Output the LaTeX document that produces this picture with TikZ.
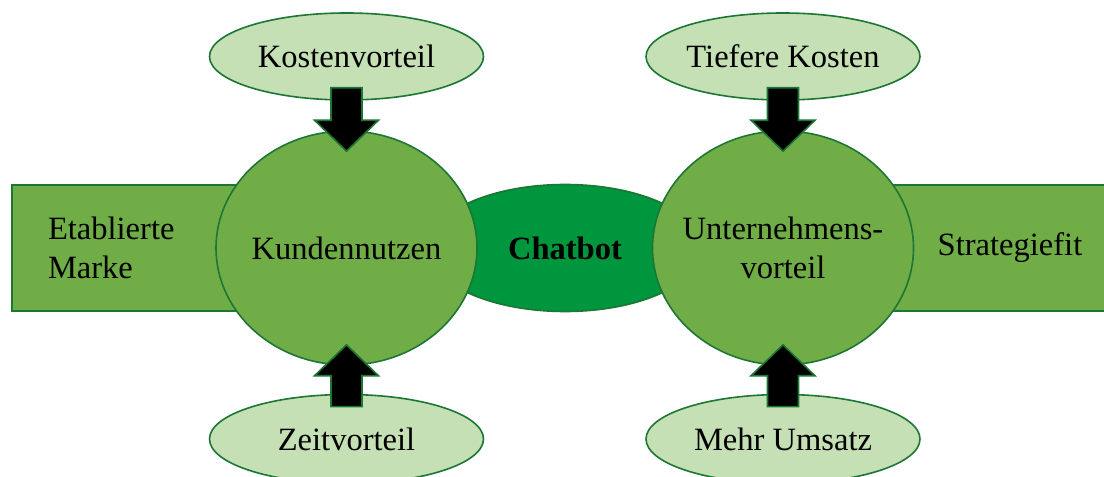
\documentclass[tikz,border=0pt]{standalone}
\usepackage{fontspec}
\setmainfont{Liberation Serif}
\usetikzlibrary{calc,shapes.geometric}

\definecolor{edgegreen}{RGB}{28,118,52}
\definecolor{boxgreen}{HTML}{70AD47}
\definecolor{botgreen}{RGB}{0,150,62}
\definecolor{palegreen}{HTML}{C5E0B4}

\begin{document}
\begin{tikzpicture}[
    x=0.75pt, y=-0.75pt,
    every node/.style={font=\fontsize{24.4}{29.3}\selectfont, inner sep=0pt},
    side/.style={draw=edgegreen, line width=1.2pt, fill=boxgreen, minimum height=94.5pt},
    hub/.style={ellipse, draw=edgegreen, line width=1.2pt, fill=boxgreen, inner xsep=-12pt,
        minimum width=195.75pt, minimum height=175.5pt, align=center},
    core/.style={ellipse, draw=edgegreen, line width=1.2pt, fill=botgreen, inner xsep=-12pt,
        minimum width=205.5pt, minimum height=95.25pt, font=\fontsize{24.4}{29.3}\selectfont\bfseries},
    factor/.style={ellipse, draw=edgegreen, line width=1.2pt, fill=palegreen, inner xsep=-12pt,
        minimum width=205.5pt, minimum height=65.25pt},
    blockarrow/.style={draw=edgegreen, line width=1.2pt, fill=black, line join=miter,
        to path={let \p1=($(\tikztostart)!-9.75pt!(\tikztotarget)$),
                     \p2=($(\tikztotarget)!-15.75pt!(\tikztostart)$) in
            ($(\p1)!11.6pt!90:(\p2)$) -- ($(\p2)!26pt!-26.6:(\p1)$)
            -- ($(\p2)!33.4pt!-45.9:(\p1)$) -- (\p2)
            -- ($(\p2)!33.4pt!45.9:(\p1)$) -- ($(\p2)!26pt!26.6:(\p1)$)
            -- ($(\p1)!11.6pt!-90:(\p2)$) -- cycle}},
]
\useasboundingbox (0,0) rectangle (1104,477);

% side boxes
\node[side, minimum width=216pt, text width=162pt, inner xsep=27pt, align=left] (marke) at (156,248) {Etablierte\\Marke};
\node[side, minimum width=225pt] (strategie) at (1010,248) {Strategiefit};

% centre
\node[core] (chatbot) at (565,248) {Chatbot};
\node[hub] (kunden) at (346.5,248) {Kundennutzen};
\node[hub] (firma) at (783,248) {Unternehmens-\\vorteil};

% factors
\node[factor] (kosten) at (346.5,56.5) {Kostenvorteil};
\node[factor, minimum height=66.75pt] (zeit) at (346.5,439) {Zeitvorteil};
\node[factor] (tiefer) at (783,56.5) {Tiefere Kosten};
\node[factor, minimum height=66.75pt] (umsatz) at (783,439) {Mehr Umsatz};

% block arrows
\draw[blockarrow] (kosten.south) to (kunden.north);
\draw[blockarrow] (zeit.north) to (kunden.south);
\draw[blockarrow] (tiefer.south) to (firma.north);
\draw[blockarrow] (umsatz.north) to (firma.south);

\end{tikzpicture}
\end{document}
